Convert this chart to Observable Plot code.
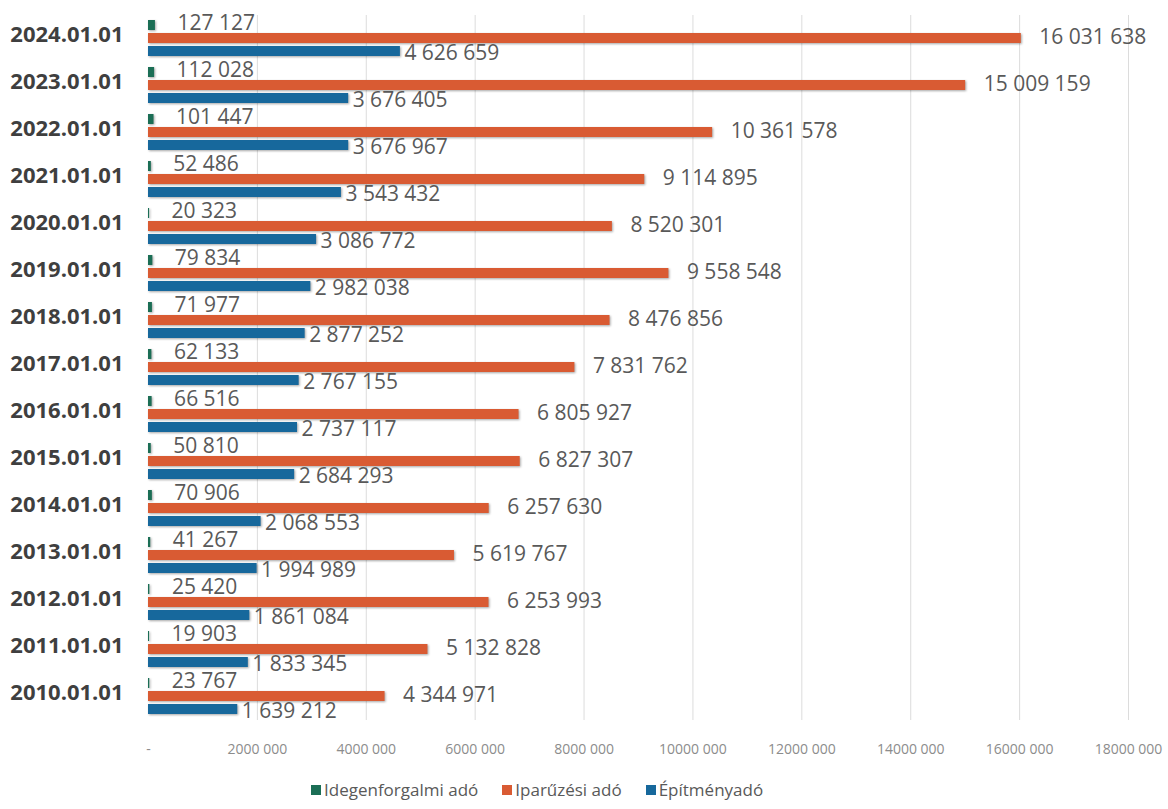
<!DOCTYPE html>
<html>
<head>
<meta charset="utf-8">
<script src="https://cdn.jsdelivr.net/npm/d3@7"></script>
<script src="https://cdn.jsdelivr.net/npm/@observablehq/plot@0.6"></script>
<style>
  body { margin: 0; background: #fff; font-family: "Open Sans", sans-serif; }
  #chart { width: 1168px; }
  .bars rect { filter: drop-shadow(1px 1.5px 1px rgba(0,0,0,0.35)); }
  .legend { display: flex; justify-content: flex-start; align-items: center; gap: 24px; font-size: 17px; color: #595959; margin-top: 8px; padding-left: 311px; }
  .legend span.item { display: inline-flex; align-items: center; gap: 3px; }
  .legend i { display: inline-block; width: 10px; height: 10px; }
</style>
</head>
<body>
<div id="chart"></div>
<script>
const dates = ["2010.01.01","2011.01.01","2012.01.01","2013.01.01","2014.01.01","2015.01.01","2016.01.01","2017.01.01","2018.01.01","2019.01.01","2020.01.01","2021.01.01","2022.01.01","2023.01.01","2024.01.01"];
const idegenforgalmi = [23767,19903,25420,41267,70906,50810,66516,62133,71977,79834,20323,52486,101447,112028,127127];
const iparuzesi = [4344971,5132828,6253993,5619767,6257630,6827307,6805927,7831762,8476856,9558548,8520301,9114895,10361578,15009159,16031638];
const epitmeny = [1639212,1833345,1861084,1994989,2068553,2684293,2737117,2767155,2877252,2982038,3086772,3543432,3676967,3676405,4626659];
const seriesNames = ["Idegenforgalmi adó","Iparűzési adó","Építményadó"];
const seriesColors = ["#1b6e55","#d95b33","#17689c"];
const xTicks = [0,2000000,4000000,6000000,8000000,10000000,12000000,14000000,16000000,18000000];
const xTickLabels = ["-","2000 000","4000 000","6000 000","8000 000","10000 000","12000 000","14000 000","16000 000","18000 000"];

const seriesValues = [idegenforgalmi, iparuzesi, epitmeny];
const data = [];
dates.forEach((d, i) => {
  seriesNames.forEach((s, j) => data.push({date: d, series: s, value: seriesValues[j][i]}));
});
const fmt = v => d3.format(",")(v).replace(/,/g, " ");

const chart = Plot.plot({
  width: 1168,
  height: 770,
  marginLeft: 148,
  marginRight: 40,
  marginTop: 11,
  marginBottom: 46,
  style: {fontFamily: "'Open Sans', sans-serif", background: "#fff"},
  x: {domain: [0, 18000000], axis: null},
  y: {domain: seriesNames, axis: null, paddingInner: 0.2, paddingOuter: 0.4},
  fy: {domain: dates.slice().reverse(), padding: 0, axis: null},
  color: {domain: seriesNames, range: seriesColors},
  marks: [
    Plot.gridX(xTicks.slice(1), {stroke: "#dcdcdc", strokeOpacity: 1}),
    Plot.axisFy({anchor: "left", tickSize: 0, tickPadding: 25, fontSize: 22, fontWeight: "bold", color: "#3f3f3f", label: null, dy: -4}),
    Plot.axisX(xTicks, {tickSize: 0, tickPadding: 24, fontSize: 14, color: "#8c8c8c", label: null, tickFormat: (d) => xTickLabels[xTicks.indexOf(d)]}),
    Plot.barX(data, {x: "value", y: "series", fy: "date", fill: "series", className: "bars"}),
    Plot.text(data.filter(d => d.series === seriesNames[0]), {x: "value", y: "series", fy: "date", text: d => fmt(d.value), dx: 22, dy: -2, textAnchor: "start", fontSize: 21, fill: "#595959"}),
    Plot.text(data.filter(d => d.series === seriesNames[1]), {x: "value", y: "series", fy: "date", text: d => fmt(d.value), dx: 18, dy: -1, textAnchor: "start", fontSize: 21, fill: "#595959"}),
    Plot.text(data.filter(d => d.series === seriesNames[2]), {x: "value", y: "series", fy: "date", text: d => fmt(d.value), dx: 4, dy: 2, textAnchor: "start", fontSize: 21, fill: "#595959"})
  ]
});
document.getElementById("chart").appendChild(chart);

const legend = document.createElement("div");
legend.className = "legend";
seriesNames.forEach((s, i) => {
  const item = document.createElement("span");
  item.className = "item";
  const sw = document.createElement("i");
  sw.style.background = seriesColors[i];
  item.appendChild(sw);
  const t = document.createElement("span");
  t.textContent = s;
  item.appendChild(t);
  legend.appendChild(item);
});
document.getElementById("chart").appendChild(legend);
</script>
</body>
</html>
